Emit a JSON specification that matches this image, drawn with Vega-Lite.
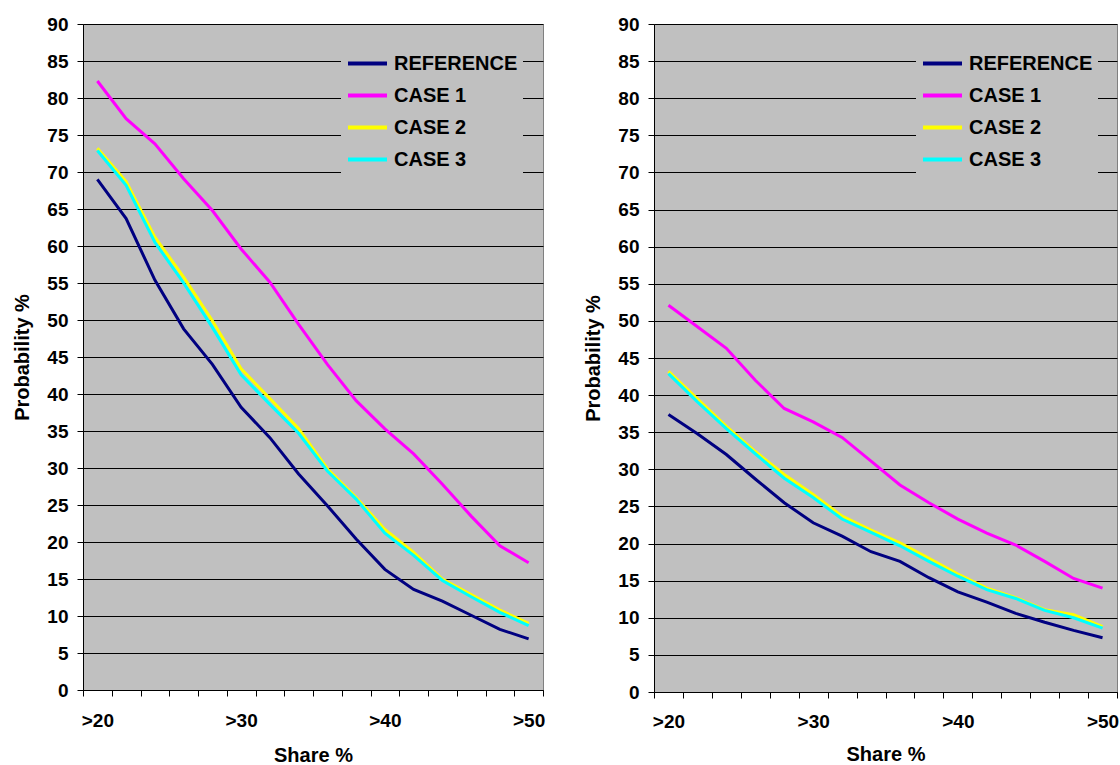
{
  "$schema": "https://vega.github.io/schema/vega-lite/v6.json",
  "padding": {"left": 12, "top": 14, "right": 0, "bottom": 6},
  "background": "white",
  "spacing": 111,
  "bounds": "flush",
  "datasets": {
    "left": [
      {"share": ">20", "series": "REFERENCE", "value": 69.0}, {"share": ">22", "series": "REFERENCE", "value": 63.7},
      {"share": ">24", "series": "REFERENCE", "value": 55.4}, {"share": ">26", "series": "REFERENCE", "value": 48.8},
      {"share": ">28", "series": "REFERENCE", "value": 44.0}, {"share": ">30", "series": "REFERENCE", "value": 38.2},
      {"share": ">32", "series": "REFERENCE", "value": 34.1}, {"share": ">34", "series": "REFERENCE", "value": 29.2},
      {"share": ">36", "series": "REFERENCE", "value": 24.9}, {"share": ">38", "series": "REFERENCE", "value": 20.4},
      {"share": ">40", "series": "REFERENCE", "value": 16.3}, {"share": ">42", "series": "REFERENCE", "value": 13.6},
      {"share": ">44", "series": "REFERENCE", "value": 12.0}, {"share": ">46", "series": "REFERENCE", "value": 10.1},
      {"share": ">48", "series": "REFERENCE", "value": 8.2}, {"share": ">50", "series": "REFERENCE", "value": 6.9},
      {"share": ">20", "series": "CASE 1", "value": 82.3}, {"share": ">22", "series": "CASE 1", "value": 77.2},
      {"share": ">24", "series": "CASE 1", "value": 73.8}, {"share": ">26", "series": "CASE 1", "value": 69.1},
      {"share": ">28", "series": "CASE 1", "value": 64.8}, {"share": ">30", "series": "CASE 1", "value": 59.6},
      {"share": ">32", "series": "CASE 1", "value": 55.1}, {"share": ">34", "series": "CASE 1", "value": 49.4},
      {"share": ">36", "series": "CASE 1", "value": 44.0}, {"share": ">38", "series": "CASE 1", "value": 39.1},
      {"share": ">40", "series": "CASE 1", "value": 35.3}, {"share": ">42", "series": "CASE 1", "value": 31.9},
      {"share": ">44", "series": "CASE 1", "value": 27.8}, {"share": ">46", "series": "CASE 1", "value": 23.5},
      {"share": ">48", "series": "CASE 1", "value": 19.5}, {"share": ">50", "series": "CASE 1", "value": 17.2},
      {"share": ">20", "series": "CASE 2", "value": 73.2}, {"share": ">22", "series": "CASE 2", "value": 68.7},
      {"share": ">24", "series": "CASE 2", "value": 61.2}, {"share": ">26", "series": "CASE 2", "value": 55.8},
      {"share": ">28", "series": "CASE 2", "value": 49.9}, {"share": ">30", "series": "CASE 2", "value": 43.4},
      {"share": ">32", "series": "CASE 2", "value": 39.4}, {"share": ">34", "series": "CASE 2", "value": 35.3},
      {"share": ">36", "series": "CASE 2", "value": 29.9}, {"share": ">38", "series": "CASE 2", "value": 26.0},
      {"share": ">40", "series": "CASE 2", "value": 21.7}, {"share": ">42", "series": "CASE 2", "value": 18.6},
      {"share": ">44", "series": "CASE 2", "value": 15.0}, {"share": ">46", "series": "CASE 2", "value": 12.9},
      {"share": ">48", "series": "CASE 2", "value": 10.8}, {"share": ">50", "series": "CASE 2", "value": 9.0},
      {"share": ">20", "series": "CASE 3", "value": 72.9}, {"share": ">22", "series": "CASE 3", "value": 68.2},
      {"share": ">24", "series": "CASE 3", "value": 60.5}, {"share": ">26", "series": "CASE 3", "value": 55.0},
      {"share": ">28", "series": "CASE 3", "value": 49.0}, {"share": ">30", "series": "CASE 3", "value": 42.6},
      {"share": ">32", "series": "CASE 3", "value": 38.6}, {"share": ">34", "series": "CASE 3", "value": 34.7},
      {"share": ">36", "series": "CASE 3", "value": 29.6}, {"share": ">38", "series": "CASE 3", "value": 25.8},
      {"share": ">40", "series": "CASE 3", "value": 21.2}, {"share": ">42", "series": "CASE 3", "value": 18.2},
      {"share": ">44", "series": "CASE 3", "value": 14.8}, {"share": ">46", "series": "CASE 3", "value": 12.6},
      {"share": ">48", "series": "CASE 3", "value": 10.5}, {"share": ">50", "series": "CASE 3", "value": 8.7}
    ],
    "right": [
      {"share": ">20", "series": "REFERENCE", "value": 37.4}, {"share": ">22", "series": "REFERENCE", "value": 34.8},
      {"share": ">24", "series": "REFERENCE", "value": 32.0}, {"share": ">26", "series": "REFERENCE", "value": 28.7},
      {"share": ">28", "series": "REFERENCE", "value": 25.5}, {"share": ">30", "series": "REFERENCE", "value": 22.8},
      {"share": ">32", "series": "REFERENCE", "value": 21.0}, {"share": ">34", "series": "REFERENCE", "value": 18.9},
      {"share": ">36", "series": "REFERENCE", "value": 17.6}, {"share": ">38", "series": "REFERENCE", "value": 15.4},
      {"share": ">40", "series": "REFERENCE", "value": 13.5}, {"share": ">42", "series": "REFERENCE", "value": 12.1},
      {"share": ">44", "series": "REFERENCE", "value": 10.6}, {"share": ">46", "series": "REFERENCE", "value": 9.4},
      {"share": ">48", "series": "REFERENCE", "value": 8.3}, {"share": ">50", "series": "REFERENCE", "value": 7.3},
      {"share": ">20", "series": "CASE 1", "value": 52.1}, {"share": ">22", "series": "CASE 1", "value": 49.2},
      {"share": ">24", "series": "CASE 1", "value": 46.3}, {"share": ">26", "series": "CASE 1", "value": 42.0},
      {"share": ">28", "series": "CASE 1", "value": 38.2}, {"share": ">30", "series": "CASE 1", "value": 36.4},
      {"share": ">32", "series": "CASE 1", "value": 34.3}, {"share": ">34", "series": "CASE 1", "value": 31.1},
      {"share": ">36", "series": "CASE 1", "value": 27.9}, {"share": ">38", "series": "CASE 1", "value": 25.5},
      {"share": ">40", "series": "CASE 1", "value": 23.3}, {"share": ">42", "series": "CASE 1", "value": 21.4},
      {"share": ">44", "series": "CASE 1", "value": 19.8}, {"share": ">46", "series": "CASE 1", "value": 17.6},
      {"share": ">48", "series": "CASE 1", "value": 15.3}, {"share": ">50", "series": "CASE 1", "value": 14.0},
      {"share": ">20", "series": "CASE 2", "value": 43.2}, {"share": ">22", "series": "CASE 2", "value": 39.5},
      {"share": ">24", "series": "CASE 2", "value": 35.8}, {"share": ">26", "series": "CASE 2", "value": 32.4},
      {"share": ">28", "series": "CASE 2", "value": 29.3}, {"share": ">30", "series": "CASE 2", "value": 26.6},
      {"share": ">32", "series": "CASE 2", "value": 23.7}, {"share": ">34", "series": "CASE 2", "value": 21.8},
      {"share": ">36", "series": "CASE 2", "value": 20.1}, {"share": ">38", "series": "CASE 2", "value": 18.0},
      {"share": ">40", "series": "CASE 2", "value": 15.9}, {"share": ">42", "series": "CASE 2", "value": 14.0},
      {"share": ">44", "series": "CASE 2", "value": 12.7}, {"share": ">46", "series": "CASE 2", "value": 11.1},
      {"share": ">48", "series": "CASE 2", "value": 10.4}, {"share": ">50", "series": "CASE 2", "value": 8.8},
      {"share": ">20", "series": "CASE 3", "value": 42.9}, {"share": ">22", "series": "CASE 3", "value": 39.1},
      {"share": ">24", "series": "CASE 3", "value": 35.5}, {"share": ">26", "series": "CASE 3", "value": 32.1},
      {"share": ">28", "series": "CASE 3", "value": 28.8}, {"share": ">30", "series": "CASE 3", "value": 26.2},
      {"share": ">32", "series": "CASE 3", "value": 23.3}, {"share": ">34", "series": "CASE 3", "value": 21.5},
      {"share": ">36", "series": "CASE 3", "value": 19.7}, {"share": ">38", "series": "CASE 3", "value": 17.6},
      {"share": ">40", "series": "CASE 3", "value": 15.6}, {"share": ">42", "series": "CASE 3", "value": 13.8},
      {"share": ">44", "series": "CASE 3", "value": 12.6}, {"share": ">46", "series": "CASE 3", "value": 11.0},
      {"share": ">48", "series": "CASE 3", "value": 10.0}, {"share": ">50", "series": "CASE 3", "value": 8.6}
    ]
  },
  "hconcat": [
    {
      "width": 460,
      "height": 666,
      "data": {"name": "left"},
      "mark": {"type": "line", "strokeWidth": 3},
      "encoding": {
        "x": {
          "field": "share", "type": "ordinal",
          "sort": [">20",">22",">24",">26",">28",">30",">32",">34",">36",">38",">40",">42",">44",">46",">48",">50"],
          "scale": {"type": "band", "paddingInner": 0, "paddingOuter": 0},
          "bandPosition": 0.5,
          "axis": {"title": "Share %", "labelAngle": 0, "tickBand": "extent", "grid": false,
            "labelExpr": "indexof(['>20','>30','>40','>50'], datum.value) >= 0 ? datum.value : ''",
            "labelPadding": 15, "titlePadding": 15}
        },
        "y": {
          "field": "value", "type": "quantitative",
          "scale": {"domain": [0, 90], "nice": false},
          "axis": {"title": "Probability %", "values": [0,5,10,15,20,25,30,35,40,45,50,55,60,65,70,75,80,85,90],
            "grid": true, "labelPadding": 9, "titlePadding": 14}
        },
        "color": {
          "field": "series", "type": "nominal",
          "scale": {"domain": ["REFERENCE","CASE 1","CASE 2","CASE 3"], "range": ["#000080","#FF00FF","#FFFF00","#00FFFF"]},
          "legend": {"orient": "none", "legendX": 258, "legendY": 13}
        }
      }
    },
    {
      "width": 463,
      "height": 668,
      "data": {"name": "right"},
      "mark": {"type": "line", "strokeWidth": 3},
      "encoding": {
        "x": {
          "field": "share", "type": "ordinal",
          "sort": [">20",">22",">24",">26",">28",">30",">32",">34",">36",">38",">40",">42",">44",">46",">48",">50"],
          "scale": {"type": "band", "paddingInner": 0, "paddingOuter": 0},
          "bandPosition": 0.5,
          "axis": {"title": "Share %", "labelAngle": 0, "tickBand": "extent", "grid": false,
            "labelExpr": "indexof(['>20','>30','>40','>50'], datum.value) >= 0 ? datum.value : ''",
            "labelPadding": 14, "titlePadding": 13}
        },
        "y": {
          "field": "value", "type": "quantitative",
          "scale": {"domain": [0, 90], "nice": false},
          "axis": {"title": "Probability %", "values": [0,5,10,15,20,25,30,35,40,45,50,55,60,65,70,75,80,85,90],
            "grid": true, "labelPadding": 9, "titlePadding": 14}
        },
        "color": {
          "field": "series", "type": "nominal",
          "scale": {"domain": ["REFERENCE","CASE 1","CASE 2","CASE 3"], "range": ["#000080","#FF00FF","#FFFF00","#00FFFF"]},
          "legend": {"orient": "none", "legendX": 262, "legendY": 13}
        }
      }
    }
  ],
  "resolve": {"scale": {"color": "independent", "x": "independent", "y": "independent"}, "legend": {"color": "independent"}},
  "config": {
    "font": "Liberation Sans",
    "view": {"fill": "#C0C0C0", "stroke": "#808080", "strokeWidth": 1},
    "axis": {
      "domainColor": "#000000", "domainWidth": 1, "tickColor": "#000000", "tickWidth": 1, "tickSize": 6,
      "gridColor": "#000000", "gridOpacity": 1, "gridWidth": 1,
      "labelFont": "Liberation Sans", "labelFontSize": 19, "labelFontWeight": "bold", "labelColor": "#000000",
      "titleFont": "Liberation Sans", "titleFontSize": 20, "titleFontWeight": "bold", "titleColor": "#000000"
    },
    "legend": {
      "title": null, "symbolType": "stroke", "symbolSize": 1521, "symbolStrokeWidth": 4,
      "labelFont": "Liberation Sans", "labelFontSize": 20, "labelFontWeight": "bold", "labelColor": "#000000",
      "fillColor": "#C0C0C0", "padding": 5, "rowPadding": -9, "labelOffset": 5, "labelLimit": 300
    }
  }
}
